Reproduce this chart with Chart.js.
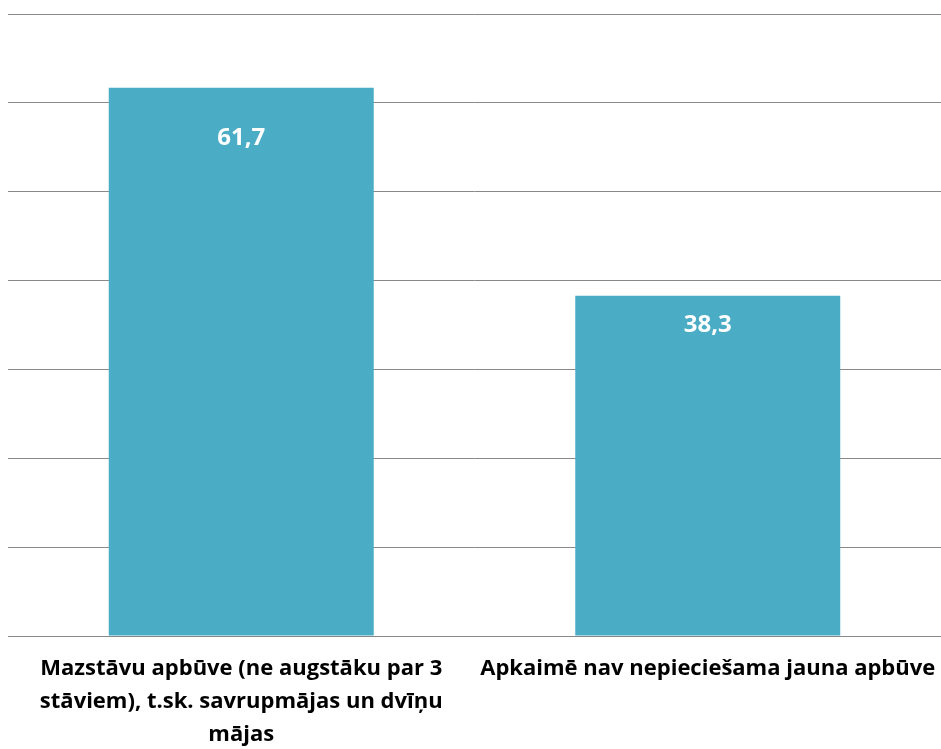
<!DOCTYPE html>
<html>
<head>
<meta charset="utf-8">
<script src="https://cdn.jsdelivr.net/npm/chart.js@4"></script>
<style>
  html, body { margin: 0; padding: 0; background: #ffffff; }
  #wrap { width: 941px; height: 749px; position: relative; }
</style>
</head>
<body>
<div id="wrap"><canvas id="c"></canvas></div>
<script>
const categories = [
  ["Mazstāvu apbūve (ne augstāku par 3", "stāviem), t.sk. savrupmājas un dvīņu", "mājas"],
  ["Apkaimē nav nepieciešama jauna apbūve"]
];
const values = [61.7, 38.3];
const valueLabels = ["61,7", "38,3"];

const barLabelPlugin = {
  id: 'barLabels',
  afterDatasetsDraw(chart, args, opts) {
    const ctx = chart.ctx;
    const meta = chart.getDatasetMeta(0);
    ctx.save();
    ctx.fillStyle = '#ffffff';
    ctx.font = 'bold 24px "Open Sans"';
    ctx.textAlign = 'center';
    ctx.textBaseline = 'middle';
    meta.data.forEach((bar, i) => {
      const off = opts.offsets[i];
      ctx.fillText(valueLabels[i], bar.x, bar.y + off);
    });
    ctx.restore();
  }
};

new Chart(document.getElementById('c'), {
  type: 'bar',
  data: {
    labels: categories,
    datasets: [{
      data: values,
      backgroundColor: '#4BACC6',
      borderWidth: 0,
      barPercentage: 0.568,
      categoryPercentage: 1.0
    }]
  },
  options: {
    responsive: true,
    maintainAspectRatio: false,
    animation: false,
    layout: { padding: { left: 8, right: 0, top: 14, bottom: 0 } },
    plugins: {
      legend: { display: false },
      tooltip: { enabled: false },
      barLabels: { offsets: [50, 29] }
    },
    scales: {
      x: {
        grid: { display: false, drawTicks: false },
        border: { display: true, color: '#898989', width: 1 },
        ticks: {
          color: '#000000',
          font: { family: '"Open Sans"', size: 22, weight: 'bold', lineHeight: 1.5 },
          padding: 16,
          maxRotation: 0,
          minRotation: 0,
          autoSkip: false
        },
        afterFit(scale) {
          scale.height = 113;
          scale.paddingLeft = 0;
          scale.paddingRight = 0;
        }
      },
      y: {
        min: 0,
        max: 70,
        ticks: { display: false, stepSize: 10 },
        grid: { color: '#898989', lineWidth: 1, drawTicks: false },
        border: { display: false }
      }
    }
  },
  plugins: [barLabelPlugin]
});
</script>
</body>
</html>
